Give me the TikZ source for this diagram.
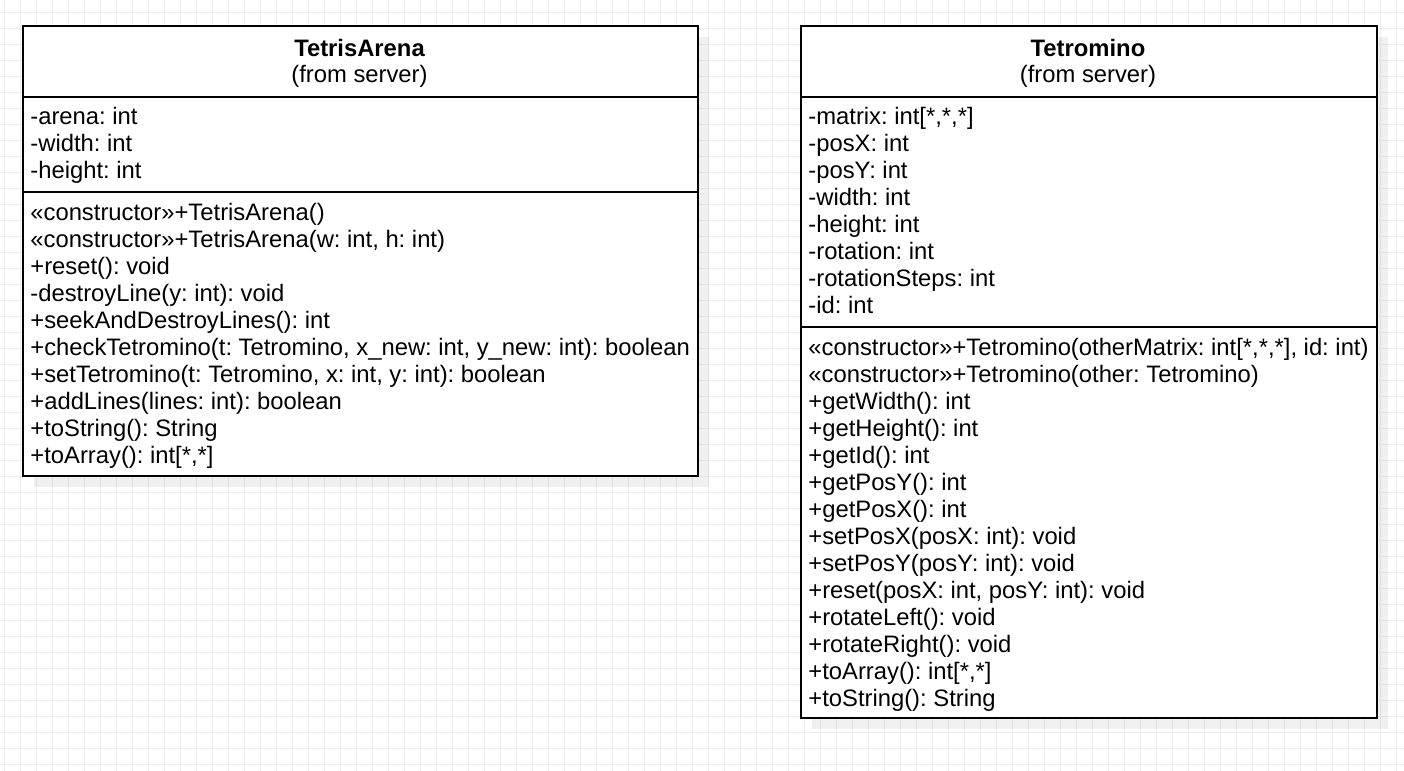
\documentclass[tikz,border=0pt]{standalone}
\usepackage{fontspec}
\setmainfont{Liberation Sans}
\frenchspacing
\begin{document}
\begin{tikzpicture}[x=0.5pt,y=-0.5pt,
  gridline/.style={draw=black!7,line width=0.5pt},
  shadowbox/.style={fill=black,opacity=0.06,draw=none},
  classbox/.style={draw=black,fill=white,line width=1pt,inner sep=0pt,anchor=north west},
  sepline/.style={draw=black,line width=1pt},
  member/.style={anchor=base west,inner sep=0pt,font=\fontsize{11.9}{13.5}\selectfont},
  titletext/.style={anchor=base,inner sep=0pt,font=\fontsize{11.9}{13.5}\selectfont\bfseries},
  subtext/.style={anchor=base,inner sep=0pt,font=\fontsize{11.9}{13.5}\selectfont}]
\useasboundingbox (0,0) rectangle (1404,771);
\fill[white] (0,0) rectangle (1404,771);
% grid
\foreach \gx in {4,20,...,1404} \draw[gridline] (\gx,0) -- (\gx,771);
\foreach \gy in {12,28,...,771} \draw[gridline] (0,\gy) -- (1404,\gy);
% shadows
\fill[shadowbox] (34,37) rectangle (709,487);
\fill[shadowbox] (812,37) rectangle (1388,729);
% TetrisArena (675 x 450 px)
\node[classbox,minimum width=337.5pt,minimum height=225pt] (ta) at (22,25) {};
\draw[sepline] (22,97) -- (697,97);
\draw[sepline] (22,192) -- (697,192);
\node[titletext] (tatitle) at (359.5,56) {TetrisArena};
\node[subtext] (tasub) at (359.5,83) {(from server)};
\foreach [count=\i] \t in {-arena: int,-width: int,-height: int}
  \node[member] (taa\i) at (30,124+27*\i-27) {\t};
\foreach [count=\i] \t in {%
  «constructor»+TetrisArena(),
  «constructor»+TetrisArena(w: int{,} h: int),
  +reset(): void,
  -destroyLine(y: int): void,
  +seekAndDestroyLines(): int,
  +checkTetromino(t: Tetromino{,} x\_new: int{,} y\_new: int): boolean,
  +setTetromino(t: Tetromino{,} x: int{,} y: int): boolean,
  +addLines(lines: int): boolean,
  +toString(): String,
  +toArray(): int[*{,}*]}
  \node[member] (tam\i) at (30,220+27*\i-27) {\t};
% Tetromino (576 x 692 px)
\node[classbox,minimum width=288pt,minimum height=346pt] (te) at (800,25) {};
\draw[sepline] (800,97) -- (1376,97);
\draw[sepline] (800,327) -- (1376,327);
\node[titletext] (tetitle) at (1088,56) {Tetromino};
\node[subtext] (tesub) at (1088,83) {(from server)};
\foreach [count=\i] \t in {%
  -matrix: int[*{,}*{,}*],
  -posX: int,
  -posY: int,
  -width: int,
  -height: int,
  -rotation: int,
  -rotationSteps: int,
  -id: int}
  \node[member] (tea\i) at (808,124+27*\i-27) {\t};
\foreach [count=\i] \t in {%
  «constructor»+Tetromino(otherMatrix: int[*{,}*{,}*]{,} id: int),
  «constructor»+Tetromino(other: Tetromino),
  +getWidth(): int,
  +getHeight(): int,
  +getId(): int,
  +getPosY(): int,
  +getPosX(): int,
  +setPosX(posX: int): void,
  +setPosY(posY: int): void,
  +reset(posX: int{,} posY: int): void,
  +rotateLeft(): void,
  +rotateRight(): void,
  +toArray(): int[*{,}*],
  +toString(): String}
  \node[member] (tem\i) at (808,355+27*\i-27) {\t};
\end{tikzpicture}
\end{document}
